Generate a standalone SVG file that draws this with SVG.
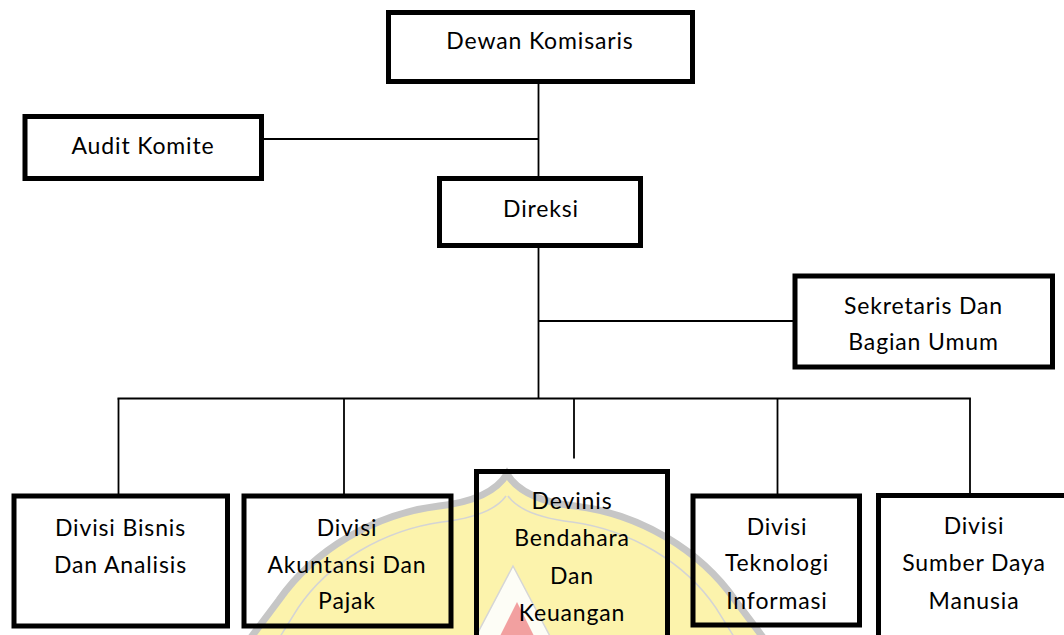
<svg xmlns="http://www.w3.org/2000/svg" width="1064" height="635" viewBox="0 0 1064 635">
  <style>
    .box { fill: none; stroke: #000; stroke-width: 5; }
    .wire { fill: none; stroke: #000; stroke-width: 1.8; }
    .lbl { font-family: Lato, "Liberation Sans", sans-serif; font-size: 23px; letter-spacing: 0.85px; fill: #000; text-anchor: middle; }
  </style>
  <rect width="1064" height="635" fill="#fff"/>

  <!-- faint emblem behind the lower row -->
  <g id="emblem">
    <path d="M507,474 C518,492 540,502 575,506 C640,514 700,550 735,600 L765,640 L249,640 L279,600 C314,550 374,514 439,506 C474,502 496,492 507,474 Z" fill="#fcf3ac" stroke="#c6c6c6" stroke-width="7"/>
    <path d="M508,496 C518,510 538,518 572,522 C630,530 685,562 716,608 L736,640 M506,496 C496,510 476,518 442,522 C384,530 329,562 298,608 L278,640" fill="none" stroke="#d4d4d4" stroke-width="1.5"/>
    <path d="M513,566 L552,640 L474,640 Z" fill="#fdfdf6" stroke="#d6d6d6" stroke-width="1.5"/>
    <path d="M517,602 L536,640 L498,640 Z" fill="#f2a0a0"/>
  </g>

  <g id="connectors">
    <line class="wire" x1="538.5" y1="84" x2="538.5" y2="176"/>
    <line class="wire" x1="264" y1="139" x2="538.5" y2="139"/>
    <line class="wire" x1="538.5" y1="248" x2="538.5" y2="398.5"/>
    <line class="wire" x1="538.5" y1="321" x2="793" y2="321"/>
    <line class="wire" x1="117.5" y1="398.5" x2="970.9" y2="398.5"/>
    <line class="wire" x1="118.5" y1="398.5" x2="118.5" y2="494"/>
    <line class="wire" x1="344" y1="398.5" x2="344" y2="494"/>
    <line class="wire" x1="574" y1="398.5" x2="574" y2="458.5"/>
    <line class="wire" x1="777.5" y1="398.5" x2="777.5" y2="494"/>
    <line class="wire" x1="970" y1="398.5" x2="970" y2="493"/>
  </g>

  <g id="dewan-komisaris">
    <rect class="box" x="388.5" y="12.5" width="304" height="69"/>
    <text class="lbl" x="540" y="49">Dewan Komisaris</text>
  </g>

  <g id="audit-komite">
    <rect class="box" x="25" y="116.5" width="236.5" height="62"/>
    <text class="lbl" x="143" y="154">Audit Komite</text>
  </g>

  <g id="direksi">
    <rect class="box" x="439.5" y="178.5" width="201" height="67"/>
    <text class="lbl" x="541" y="216.5">Direksi</text>
  </g>

  <g id="sekretaris">
    <rect class="box" x="795" y="276" width="257.5" height="91"/>
    <text class="lbl" x="923.5" y="314">Sekretaris Dan</text>
    <text class="lbl" x="923.5" y="350">Bagian Umum</text>
  </g>

  <g id="divisi-bisnis">
    <rect class="box" x="14" y="496" width="213.5" height="130"/>
    <text class="lbl" x="120.5" y="535.5">Divisi Bisnis</text>
    <text class="lbl" x="120.5" y="572.5">Dan Analisis</text>
  </g>

  <g id="divisi-akuntansi">
    <rect class="box" x="244" y="496" width="207" height="130"/>
    <text class="lbl" x="347" y="535.5">Divisi</text>
    <text class="lbl" x="347" y="572.5">Akuntansi Dan</text>
    <text class="lbl" x="347" y="609">Pajak</text>
  </g>

  <g id="devinis-bendahara">
    <rect class="box" x="476.5" y="471.5" width="191" height="200"/>
    <text class="lbl" x="572" y="508.5">Devinis</text>
    <text class="lbl" x="572" y="546">Bendahara</text>
    <text class="lbl" x="572" y="583.5">Dan</text>
    <text class="lbl" x="572" y="621">Keuangan</text>
  </g>

  <g id="divisi-teknologi">
    <rect class="box" x="693" y="496" width="166.5" height="129"/>
    <text class="lbl" x="777" y="534.5">Divisi</text>
    <text class="lbl" x="777" y="571">Teknologi</text>
    <text class="lbl" x="777" y="608.5">Informasi</text>
  </g>

  <g id="divisi-sdm">
    <rect class="box" x="878.5" y="495.5" width="190" height="200"/>
    <text class="lbl" x="974" y="533.5">Divisi</text>
    <text class="lbl" x="974" y="571">Sumber Daya</text>
    <text class="lbl" x="974" y="608.5">Manusia</text>
  </g>
</svg>
